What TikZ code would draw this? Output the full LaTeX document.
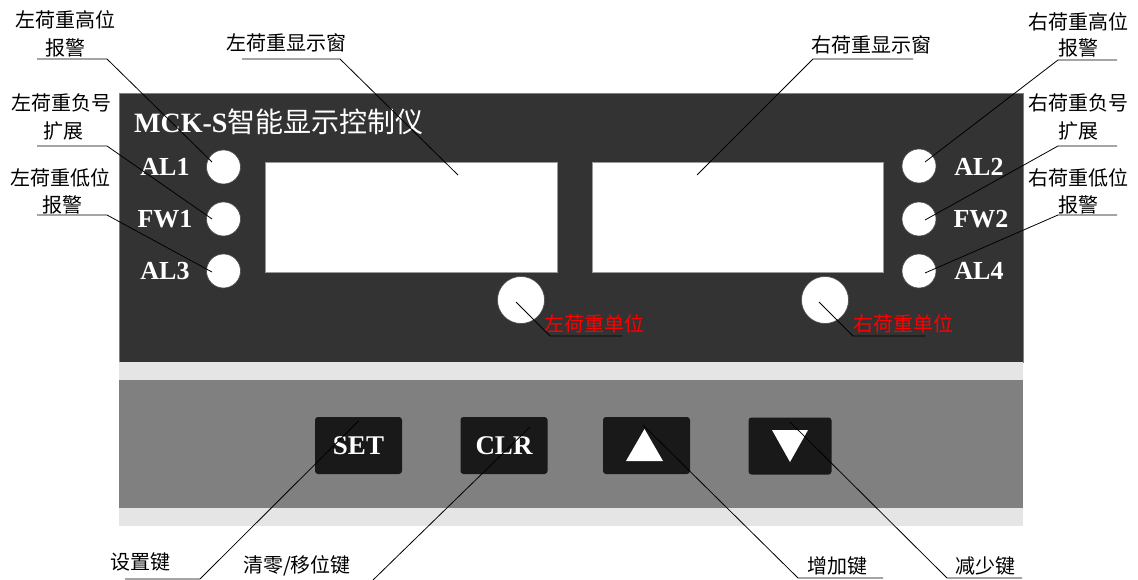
\documentclass[tikz,border=0pt]{standalone}
\usepackage{fontspec}
\setmainfont{Liberation Serif}
\newfontfamily\cjk{Noto Sans CJK SC}
\begin{document}
\begin{tikzpicture}[x=1pt,y=-1pt,
  lbl/.style={font=\cjk\fontsize{20}{20}\selectfont, inner sep=0pt, anchor=center},
  led/.style={line width=0.8pt, black},
  lamp/.style={circle, fill=white, draw=black!70, line width=0.6pt, minimum size=34pt, inner sep=0pt},
  ulamp/.style={circle, fill=white, draw=black!70, line width=0.6pt, minimum size=47pt, inner sep=0pt},
  tag/.style={font=\bfseries\fontsize{26}{26}\selectfont, text=white, inner sep=0pt},
  keybox/.style={rounded corners=3pt, fill=black!90, minimum width=87pt, minimum height=57pt, inner sep=0pt, text=white, font=\bfseries\fontsize{27}{27}\selectfont},
  window/.style={fill=white, draw=black!40, line width=0.6pt}]
\useasboundingbox (0,0) rectangle (1138,580);

% panels
\fill[black!80, draw=black!50, line width=0.6pt] (119,93) rectangle (1023,362);
\fill[black!10] (119,362) rectangle (1023,526);
\fill[black!50] (119,380) rectangle (1023,508);

% title
\node[anchor=west, inner sep=0pt, text=white] (title) at (134,122)
  {\bfseries\fontsize{28}{28}\selectfont MCK-S\mdseries\cjk 智能显示控制仪};

% display windows
\node[window, minimum width=292pt, minimum height=110pt, inner sep=0pt] (lwin) at (411,217) {};
\node[window, minimum width=291pt, minimum height=110pt, inner sep=0pt] (rwin) at (737.5,217) {};

% lamps
\node[lamp] (al1) at (223.5,167) {};
\node[lamp] (fw1) at (223.5,219) {};
\node[lamp] (al3) at (223.5,271) {};
\node[lamp] (al2) at (919,166) {};
\node[lamp] (fw2) at (919,219) {};
\node[lamp] (al4) at (919,271) {};
\node[tag] (tal1) at (165,167) {AL1};
\node[tag] (tfw1) at (165,219) {FW1};
\node[tag] (tal3) at (165,271) {AL3};
\node[tag] (tal2) at (979,167) {AL2};
\node[tag] (tfw2) at (981,219) {FW2};
\node[tag] (tal4) at (979,271) {AL4};

% unit lamps
\node[ulamp] (lunit) at (521,300) {};
\node[ulamp] (runit) at (825,300) {};
\node[lbl, text=red] (lunitt) at (594,324) {左荷重单位};
\node[lbl, text=red] (runitt) at (903,324) {右荷重单位};

% keys
\node[keybox] (set) at (358.5,445.5) {SET};
\node[keybox] (clr) at (504,445.5) {CLR};
\node[keybox] (up) at (646.5,445.5) {};
\node[keybox, minimum width=83pt] (down) at (790,446) {};
\fill[white] (626,461) -- (644.5,429) -- (663,461) -- cycle;
\fill[white] (772,430) -- (808,430) -- (790,462) -- cycle;

% top-left labels
\node[lbl] (lh1) at (66,20) {左荷重高位};
\node[lbl] (lh2) at (65,48) {报警};
\node[lbl] (ln1) at (62,103) {左荷重负号};
\node[lbl] (ln2) at (63,131) {扩展};
\node[lbl] (ll1) at (60,178) {左荷重低位};
\node[lbl] (ll2) at (62,205) {报警};
% top-right labels
\node[lbl] (rh1) at (1078,22) {右荷重高位};
\node[lbl] (rh2) at (1078,48) {报警};
\node[lbl] (rn1) at (1078,103) {右荷重负号};
\node[lbl] (rn2) at (1078,131) {扩展};
\node[lbl] (rl1) at (1078,178) {右荷重低位};
\node[lbl] (rl2) at (1078,205) {报警};
% window labels
\node[lbl] (lwt) at (286,43) {左荷重显示窗};
\node[lbl] (rwt) at (871,45) {右荷重显示窗};
% bottom labels
\node[lbl] (sett) at (140,562) {设置键};
\node[lbl] (clrt) at (297,566) {清零/移位键};
\node[lbl] (upt) at (837,566) {增加键};
\node[lbl] (downt) at (985,566) {减少键};

% underline coordinates
\coordinate (lhA) at (37,59);  \coordinate (lhB) at (107,59);
\coordinate (lnA) at (37,146); \coordinate (lnB) at (107,146);
\coordinate (llA) at (37,215); \coordinate (llB) at (107,215);
\coordinate (rhA) at (1058,60);  \coordinate (rhB) at (1117,60);
\coordinate (rnA) at (1058,146); \coordinate (rnB) at (1117,146);
\coordinate (rlA) at (1058,215); \coordinate (rlB) at (1117,215);
\coordinate (lwA) at (242,59); \coordinate (lwB) at (340,59);
\coordinate (rwA) at (813,59); \coordinate (rwB) at (913,59);
\coordinate (luA) at (550,336); \coordinate (luB) at (622,336);
\coordinate (ruA) at (853,336); \coordinate (ruB) at (925,336);
\coordinate (stA) at (125,579); \coordinate (stB) at (200,579);
\coordinate (clA) at (373,580);
\coordinate (upA) at (798,578); \coordinate (upB) at (883,578);
\coordinate (dnA) at (947,578); \coordinate (dnB) at (1022,578);

% leaders
\draw[led] (lhA) -- (lhB) -- ([shift={(-11.5,-5)}]al1.center);
\draw[led] (lnA) -- (lnB) -- ([shift={(-11.5,0)}]fw1.center);
\draw[led] (llA) -- (llB) -- ([shift={(-11.5,1)}]al3.center);
\draw[led] (rhB) -- (rhA) -- ([shift={(6,-4)}]al2.center);
\draw[led] (rnB) -- (rnA) -- ([shift={(6,1)}]fw2.center);
\draw[led] (rlB) -- (rlA) -- ([shift={(6,2)}]al4.center);
\draw[led] (lwA) -- (lwB) -- ([shift={(47,-42)}]lwin.center);
\draw[led] (rwB) -- (rwA) -- ([shift={(-40.5,-42)}]rwin.center);
\draw[led] (luB) -- (luA) -- ([shift={(-5,2)}]lunit.center);
\draw[led] (ruB) -- (ruA) -- ([shift={(-6,2)}]runit.center);
\draw[led] (stA) -- (stB) -- ([shift={(0,-24.5)}]set.center);
\draw[led] (clA) -- ([shift={(26,-18.5)}]clr.center);
\draw[led] (upB) -- (upA) -- ([shift={(-3.5,-20.5)}]up.center);
\draw[led] (dnB) -- (dnA) -- ([shift={(0,-24)}]down.center);
\end{tikzpicture}
\end{document}
